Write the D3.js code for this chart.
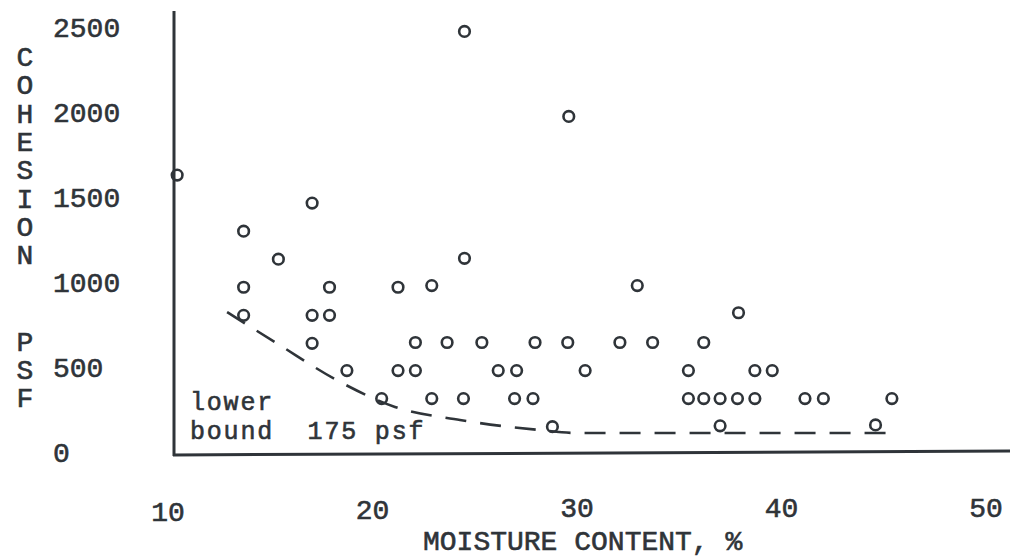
<!DOCTYPE html>
<html>
<head>
<meta charset="utf-8">
<script src="https://cdn.jsdelivr.net/npm/d3@7"></script>
<style>
  html, body { margin: 0; padding: 0; background: #fff; }
  svg text {
    font-family: "Liberation Mono", "DejaVu Sans Mono", monospace;
    fill: #2f3439;
    stroke: #2f3439;
    stroke-width: 0.6px;
  }
</style>
</head>
<body>
<svg id="chart" width="1010" height="557"></svg>
<script>
// moisture content (%) and cohesion (psf) of each sample
const moisture = [
  10.35, 24.4, 29.5, 16.95, 13.6, 15.3,
  13.6, 17.8, 21.15, 22.8, 24.4, 32.85,
  13.6, 16.95, 17.8, 37.8, 16.95,
  22.0, 23.55, 25.25, 27.85, 29.45, 32.0, 33.6, 36.1,
  18.65, 21.15, 22.0, 26.05, 26.95, 30.3, 35.35, 38.6, 39.45,
  20.35, 22.8, 24.35, 26.85, 27.75, 35.35, 36.1, 36.9, 37.75, 38.6, 41.05, 41.95, 45.3,
  28.7, 36.9, 44.5
];
const cohesion = [
  1635, 2480, 1980, 1470, 1305, 1140,
  975, 975, 975, 985, 1145, 985,
  810, 810, 810, 825, 645,
  650, 650, 650, 650, 650, 650, 650, 650,
  485, 485, 485, 485, 485, 485, 485, 485, 485,
  320, 320, 320, 320, 320, 320, 320, 320, 320, 320, 320, 320, 320,
  155, 160, 165
];

// dashed lower bound curve
const boundMoisture = [12.79, 15.28, 18.41, 21.0, 24.18, 28.09, 29.8, 45.55];
const boundCohesion = [829, 641, 412, 271, 194, 135, 118, 118];

const xTicks = [10, 20, 30, 40, 50];
const yTicks = [0, 500, 1000, 1500, 2000, 2500];
const yTitleTop = ['C', 'O', 'H', 'E', 'S', 'I', 'O', 'N'];
const yTitleBottom = ['P', 'S', 'F'];

function drawChart() {
  const ink = '#2f3439';
  const svg = d3.select('svg#chart');

  const x = d3.scaleLinear().domain([10, 50]).range([170, 988]);
  const y = d3.scaleLinear().domain([0, 2500]).range([453, 28]);

  // axes frame
  svg.append('line')
    .attr('x1', 174).attr('x2', 174)
    .attr('y1', 11).attr('y2', 456)
    .attr('stroke', ink).attr('stroke-width', 3);
  svg.append('line')
    .attr('x1', 173).attr('x2', 1010)
    .attr('y1', 455).attr('y2', 451)
    .attr('stroke', ink).attr('stroke-width', 3);

  // y tick labels (typed, left aligned)
  svg.selectAll('text.ytick').data(yTicks)
    .enter()
    .append('text')
    .attr('class', 'ytick')
    .attr('x', 53)
    .attr('y', (d) => y(d) + 9)
    .attr('font-size', '28px')
    .text((d) => d);

  // x tick labels
  svg.selectAll('text.xtick').data(xTicks)
    .enter()
    .append('text')
    .attr('class', 'xtick')
    .attr('x', (d) => x(d) - 2)
    .attr('y', (d, i) => 521 - Math.min(i, 2) * 2)
    .attr('text-anchor', 'middle')
    .attr('font-size', '28px')
    .text((d) => d);

  // vertical stacked y title
  svg.selectAll('text.ytitle1').data(yTitleTop)
    .enter()
    .append('text')
    .attr('class', 'ytitle1')
    .attr('x', 25)
    .attr('y', (d, i) => 66 + i * 28.3)
    .attr('text-anchor', 'middle')
    .attr('font-size', '28px')
    .text((d) => d);
  svg.selectAll('text.ytitle2').data(yTitleBottom)
    .enter()
    .append('text')
    .attr('class', 'ytitle2')
    .attr('x', 25)
    .attr('y', (d, i) => 351 + i * 28)
    .attr('text-anchor', 'middle')
    .attr('font-size', '28px')
    .text((d) => d);

  svg.append('text')
    .attr('x', 423).attr('y', 550)
    .attr('font-size', '28px')
    .text('MOISTURE CONTENT, %');

  // note, slightly smaller type so the two lines sit tight like the original
  svg.append('text')
    .attr('x', 190).attr('y', 410)
    .attr('font-size', '25px')
    .attr('letter-spacing', '1.8px')
    .text('lower');
  svg.append('text')
    .attr('x', 190).attr('y', 439)
    .attr('font-size', '25px')
    .attr('letter-spacing', '1.8px')
    .style('white-space', 'pre')
    .text('bound  175 psf');

  // lower bound dashed curve
  const bound = d3.zip(boundMoisture, boundCohesion);
  const line = d3.line()
    .x((d) => x(d[0]))
    .y((d) => y(d[1]))
    .curve(d3.curveMonotoneX);
  svg.append('path')
    .attr('d', line(bound))
    .attr('fill', 'none')
    .attr('stroke', ink)
    .attr('stroke-width', 2.6)
    .attr('stroke-dasharray', '21,14');

  // sample points
  const points = d3.zip(moisture, cohesion);
  svg.selectAll('circle.pt').data(points)
    .enter()
    .append('circle')
    .attr('class', 'pt')
    .attr('cx', (d) => x(d[0]))
    .attr('cy', (d) => y(d[1]))
    .attr('r', 5.3)
    .attr('fill', 'none')
    .attr('stroke', ink)
    .attr('stroke-width', 2.6);
}

drawChart();
</script>
</body>
</html>
